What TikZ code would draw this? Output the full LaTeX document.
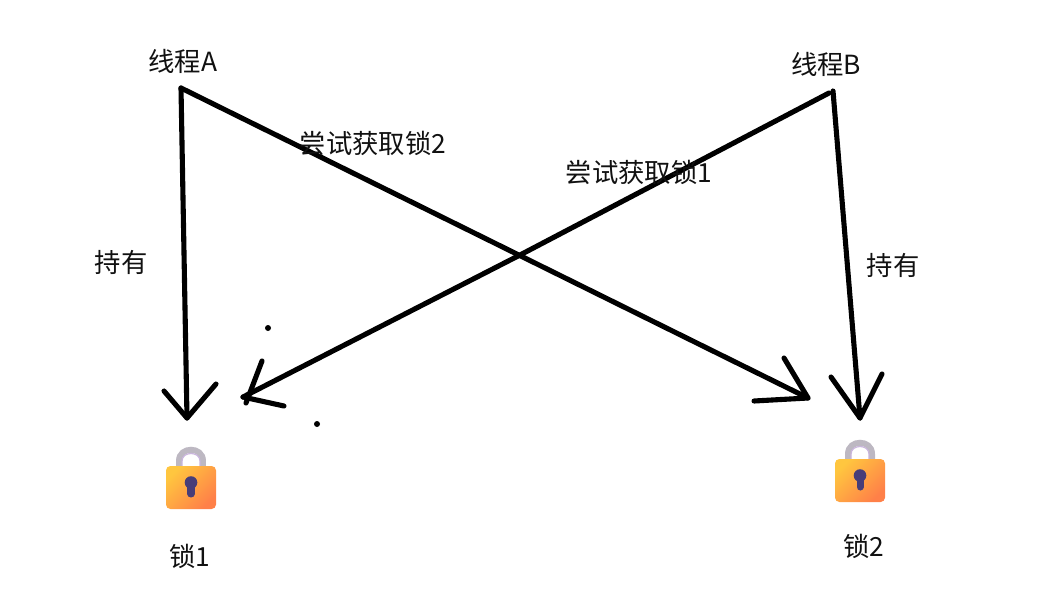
\documentclass[tikz,border=0pt]{standalone}
\usepackage{fontspec}
\setmainfont{Noto Sans CJK SC}
\definecolor{lockyellow}{HTML}{FFC63F}
\definecolor{lockorange}{HTML}{FF8048}
\definecolor{lockgray}{HTML}{BDB8C2}
\definecolor{lockinner}{HTML}{C9B5DC}
\definecolor{lockhole}{HTML}{473D78}
\definecolor{labelgray}{HTML}{111111}
\tikzset{
	label text/.style = {inner sep = 0pt, text = labelgray, font = \fontsize{15pt}{16pt}\selectfont},
	pen/.style = {line width = 2.9pt, line cap = round, line join = round},
	lockicon/.pic = {
		\draw [line width = 3.4pt, lockgray] (-12,-20) -- (-12,-27) .. controls (-12,-42) and (12,-42) .. (12,-27) -- (12,-20);
		\draw [line width = 0.7pt, lockinner] (-9,-22) -- (-9,-27) .. controls (-9,-37) and (9,-37) .. (9,-27) -- (9,-22);
		\shade [rounded corners = 2.5pt, left color = lockyellow, right color = lockorange, shading angle = 45] (-25,-22) -- (-25,21) -- (25,21) -- (25,-22) -- cycle;
		\fill [lockhole] (0,-5.5) circle (6.3);
		\draw [line width = 4pt, line cap = round, lockhole] (0,-4) -- (0,6);
	}
}
\begin{document}
\begin{tikzpicture}[x = 0.02cm, y = -0.02cm]
	\useasboundingbox [fill = white] (0,0) rectangle (1047,602);
	\node [label text] (threadA) at (183,61) {线程A};
	\node [label text] (threadB) at (826,64) {线程B};
	\node [label text] (holdA) at (121,262) {持有};
	\node [label text] (holdB) at (893,265) {持有};
	\node [label text] (lockA) at (190,556) {锁1};
	\node [label text] (lockB) at (864,546) {锁2};
	\coordinate (startA) at (181,88);
	\coordinate (startB) at (833,91);
	\coordinate (endB) at (829,93);
	\coordinate (crossB) at (520,255);
	\coordinate (tipAA) at (187,418);
	\coordinate (tipAB) at (808,398);
	\coordinate (tipBA) at (243,397);
	\coordinate (tipBB) at (860,418);
	%threads to locks
	\draw [pen] (startA) -- (tipAA);
	\draw [pen] (startA) -- (tipAB);
	\draw [pen] (endB) -- (crossB) -- (tipBA);
	\draw [pen] (startB) -- (tipBB);
	%hand drawn heads
	\draw [pen] (164,391) -- (tipAA) -- (216,384);
	\draw [pen] (784,358) -- (tipAB) -- (754,401);
	\draw [pen] (262,361) -- (246,403);
	\draw [pen] (tipBA) -- (284,406);
	\draw [pen] (831,377) -- (tipBB) -- (882,374);
	\node [label text] (tryB) at (373,143) {尝试获取锁2};
	\node [label text] (tryA) at (639,172) {尝试获取锁1};
	\fill (268,328) circle (3);
	\fill (317,424) circle (3);
	\pic at (191,488) {lockicon};
	\pic at (860,481) {lockicon};
\end{tikzpicture}
\end{document}
